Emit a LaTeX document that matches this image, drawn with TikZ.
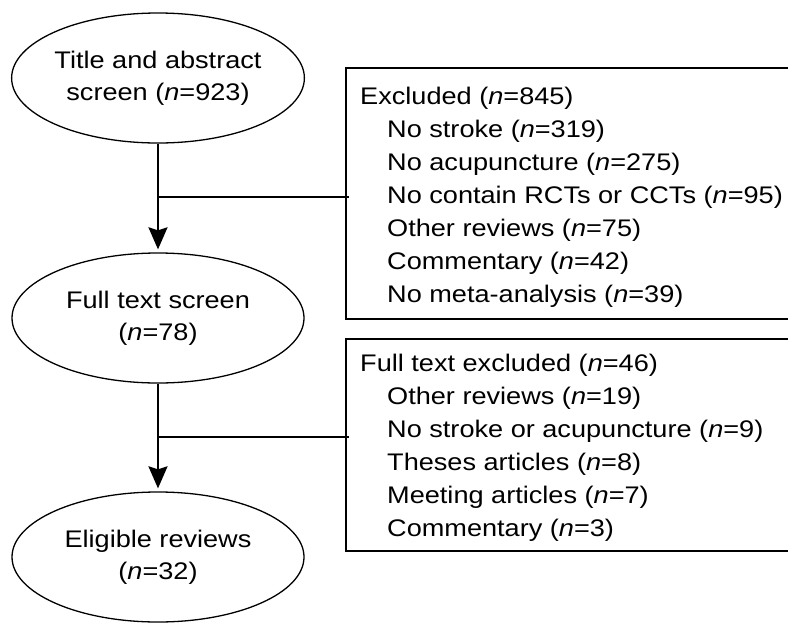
\documentclass[tikz,border=0pt]{standalone}
\usepackage{fontspec}
\setmainfont[FakeStretch=1.13]{Liberation Sans}
\usetikzlibrary{arrows.meta,shapes.geometric}
\begin{document}
\begin{tikzpicture}[x=1pt,y=-1pt,
  stage/.style={ellipse, draw, line width=1.3pt, minimum width=292pt, minimum height=130pt,
    inner sep=0pt, align=center, font=\fontsize{24}{32}\selectfont},
  exbox/.style={draw, line width=2pt, minimum width=450pt, anchor=north west, inner sep=0pt},
  extext/.style={align=left, anchor=west, inner sep=0pt, font=\fontsize{24}{33}\selectfont},
  flow/.style={line width=2.2pt},
  flowarrow/.style={flow, shorten >=3pt, -{Stealth[length=22pt, width=19pt, inset=3pt]}}
]
\useasboundingbox (0,0) rectangle (788,622);
\clip (0,0) rectangle (788,622);

% screening stages
\node[stage] (title) at (158,78) {Title and abstract\\screen (\textit{n}=923)};
\node[stage] (full)  at (158,318) {Full text screen\\(\textit{n}=78)};
\node[stage] (elig)  at (158,557) {Eligible reviews\\(\textit{n}=32)};

% exclusion boxes
\node[exbox, minimum height=251pt] (ex1) at (345,67) {};
\node[exbox, minimum height=212pt] (ex2) at (345,338) {};
\node[extext] (ex1txt) at (360,197) {Excluded (\textit{n}=845)\\
  \hspace*{27pt}No stroke (\textit{n}=319)\\
  \hspace*{27pt}No acupuncture (\textit{n}=275)\\
  \hspace*{27pt}No contain RCTs or CCTs (\textit{n}=95)\\
  \hspace*{27pt}Other reviews (\textit{n}=75)\\
  \hspace*{27pt}Commentary (\textit{n}=42)\\
  \hspace*{27pt}No meta-analysis (\textit{n}=39)};
\node[extext] (ex2txt) at (360,447.5) {Full text excluded (\textit{n}=46)\\
  \hspace*{27pt}Other reviews (\textit{n}=19)\\
  \hspace*{27pt}No stroke or acupuncture (\textit{n}=9)\\
  \hspace*{27pt}Theses articles (\textit{n}=8)\\
  \hspace*{27pt}Meeting articles (\textit{n}=7)\\
  \hspace*{27pt}Commentary (\textit{n}=3)};

% flow and branches
\coordinate (j1) at (158,197);
\coordinate (j2) at (158,437);
\draw[flowarrow] (title) -- (full);
\draw[flowarrow] (full) -- (elig);
\draw[flow] (j1) -- ([xshift=4pt]j1 -| ex1.west);
\draw[flow] (j2) -- ([xshift=4pt]j2 -| ex2.west);
\end{tikzpicture}
\end{document}
